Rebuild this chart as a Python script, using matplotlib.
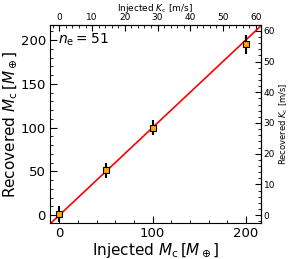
import numpy as np
import matplotlib
matplotlib.use('Agg')
import matplotlib.pyplot as plt
from matplotlib.ticker import AutoMinorLocator

# injected vs recovered planet mass (Earth masses)
m_inj = np.array([0, 50, 100, 200])
m_rec = np.array([1, 51, 100, 195])
m_err = np.array([9, 9, 9, 11])
n_e = 51
k_per_m = 0.285   # K_c [m/s] per Earth mass

fig = plt.figure(figsize=(2.91, 2.59), dpi=100)
ax = fig.add_axes([0.172, 0.139, 0.724, 0.764])

lims = (-10, 216)
ax.plot(lims, lims, color='red', lw=1.2, zorder=1)
ax.errorbar(m_inj, m_rec, yerr=m_err, fmt='s', color='black', mfc='orange',
            mec='black', ms=5, mew=0.8, elinewidth=1.5, capsize=0, zorder=3)

ax.set_xlim(lims)
ax.set_ylim(-9, 217)
ax.set_xticks([0, 100, 200])
ax.set_yticks([0, 50, 100, 150, 200])
ax.xaxis.set_minor_locator(AutoMinorLocator(5))
ax.yaxis.set_minor_locator(AutoMinorLocator(5))
ax.tick_params(which='both', direction='in', labelsize=9.5, pad=3)
ax.tick_params(which='major', length=5)
ax.tick_params(which='minor', length=2.5)
ax.set_xlabel(r'Injected $M_{\rm c}\,[M_\oplus]$', fontsize=11, labelpad=1)
ax.set_ylabel(r'Recovered $M_{\rm c}\,[M_\oplus]$', fontsize=11, labelpad=1)
ax.text(0.04, 0.905, r'$n_{\rm e} = %d$' % n_e, transform=ax.transAxes, fontsize=10)

# K_c axes on top and right
top = ax.secondary_xaxis('top', functions=(lambda m: m * k_per_m, lambda k: k / k_per_m))
top.set_xticks([0, 10, 20, 30, 40, 50, 60])
top.xaxis.set_minor_locator(AutoMinorLocator(5))
top.tick_params(which='both', direction='in', labelsize=6.5, pad=2)
top.tick_params(which='major', length=4)
top.tick_params(which='minor', length=2)
top.set_xlabel(r'Injected $K_{\rm c}$ [m/s]', fontsize=6.5, labelpad=2)

right = ax.secondary_yaxis('right', functions=(lambda m: m * k_per_m, lambda k: k / k_per_m))
right.set_yticks([0, 10, 20, 30, 40, 50, 60])
right.yaxis.set_minor_locator(AutoMinorLocator(5))
right.tick_params(which='both', direction='in', labelsize=6.5, pad=2)
right.tick_params(which='major', length=4)
right.tick_params(which='minor', length=2)
right.set_ylabel(r'Recovered $K_{\rm c}$ [m/s]', fontsize=6, labelpad=2)

plt.savefig('out.png', dpi=100)
